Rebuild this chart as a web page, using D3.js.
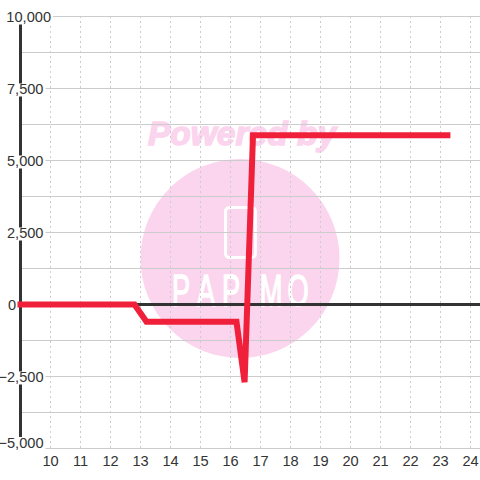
<!DOCTYPE html>
<html>
<head>
<meta charset="utf-8">
<script src="https://cdnjs.cloudflare.com/ajax/libs/d3/7.8.5/d3.min.js"></script>
<style>
html, body { margin: 0; padding: 0; background: #fff; }
svg { display: block; }
text { font-family: "Liberation Sans", Arial, sans-serif; }
</style>
</head>
<body>
<div class="chart"></div>
<script>
// values
var lineX = [8.9, 12.8, 13.2, 16.2, 16.47, 16.75, 23.33];
var lineY = [0, 0, -600, -600, -2700, 5880, 5880];
var xTickValues = [10, 11, 12, 13, 14, 15, 16, 17, 18, 19, 20, 21, 22, 23, 24];
var yLabelValues = [10000, 7500, 5000, 2500, 0, -2500, -5000];
var yGridValues = [10000, 8750, 7500, 6250, 5000, 3750, 2500, 1250, 0, -1250, -2500, -3750, -5000];
var logoLetters = ["P", "A", "P", "I", "M", "O"];

var svgWidth = 480;
var svgHeight = 480;

var svg = d3.select(".chart").append("svg")
  .attr("width", svgWidth)
  .attr("height", svgHeight);

// 10 sits at 50.5 and each unit is 30px
var xScale = d3.scaleLinear().domain([9, 24.65]).range([20.5, 490]);
var yScale = d3.scaleLinear().domain([-5000, 10000]).range([448.5, 16.5]);

// watermark
svg.append("circle").attr("cx", 240).attr("cy", 258.5).attr("r", 99.5).attr("fill", "#fbd5ed");
svg.append("text")
  .attr("x", 148).attr("y", 145)
  .attr("font-size", 33.5).attr("font-weight", "bold").attr("font-style", "italic")
  .attr("fill", "#fbd5ed").attr("stroke", "#fbd5ed").attr("stroke-width", 1.5)
  .text("Powered by");
svg.append("rect")
  .attr("x", 225.5).attr("y", 207.5).attr("width", 30).attr("height", 50).attr("rx", 4)
  .attr("fill", "none").attr("stroke", "#fff").attr("stroke-width", 3);
var logoX = [181, 206, 231, 248, 271, 298];
svg.selectAll(".logo").data(logoLetters).enter().append("text")
  .attr("transform", (d, i) => `translate(${logoX[i]},306) scale(0.62,1)`)
  .attr("text-anchor", "middle")
  .attr("font-size", 44)
  .attr("fill", "#fff").attr("stroke", "#fff").attr("stroke-width", 1.4)
  .text(d => d);

// grid
var grid = svg.append("g");
grid.selectAll(".h").data(yGridValues).enter().append("line")
  .attr("x1", 20).attr("x2", 480)
  .attr("y1", d => yScale(d)).attr("y2", d => yScale(d))
  .attr("stroke", "#ccc").attr("stroke-width", 1);
grid.selectAll(".v").data(xTickValues).enter().append("line")
  .attr("x1", d => xScale(d)).attr("x2", d => xScale(d))
  .attr("y1", 16).attr("y2", 448)
  .attr("stroke", "#ccc").attr("stroke-width", 1).attr("stroke-dasharray", "2,3");

// axes
svg.append("line")
  .attr("x1", 20.5).attr("x2", 20.5).attr("y1", 16).attr("y2", 448)
  .attr("stroke", "#333").attr("stroke-width", 3);
svg.append("line")
  .attr("x1", 20).attr("x2", 480).attr("y1", yScale(0)).attr("y2", yScale(0))
  .attr("stroke", "#333").attr("stroke-width", 3);

// y labels with a white box that cuts the axis behind them
// the 10,000, 0 and -5,000 labels sit off the usual spot
function yLabelX(d) {
  if (d === 10000) return 51;
  if (d === 0) return 16;
  return 43.5;
}
function yLabelY(d) { return d === -5000 ? yScale(d) - 1 : yScale(d) + 5.5; }

var yLabels = svg.selectAll(".yl").data(yLabelValues).enter().append("g");
yLabels.append("text")
  .attr("x", yLabelX).attr("y", yLabelY)
  .attr("text-anchor", "end")
  .attr("font-size", 14.6).attr("fill", "#333")
  .text(d => d3.format(",")(d));
yLabels.each(function() {
  var g = d3.select(this);
  var box = g.select("text").node().getBBox();
  g.insert("rect", "text")
    .attr("x", box.x).attr("y", box.y + 2.5)
    .attr("width", box.width + 2).attr("height", 13)
    .attr("fill", "#fff");
});

// series
var line = d3.line().x(d => xScale(d[0])).y(d => yScale(d[1]));
svg.append("path")
  .datum(d3.zip(lineX, lineY))
  .attr("d", line)
  .attr("fill", "none").attr("stroke", "#f0203a").attr("stroke-width", 6)
  .attr("stroke-linejoin", "miter").attr("stroke-miterlimit", 10);

// x labels
svg.selectAll(".xl").data(xTickValues).enter().append("text")
  .attr("x", d => xScale(d)).attr("y", 466)
  .attr("text-anchor", "middle")
  .attr("font-size", 14.6).attr("fill", "#333")
  .text(d => d);
</script>
</body>
</html>
